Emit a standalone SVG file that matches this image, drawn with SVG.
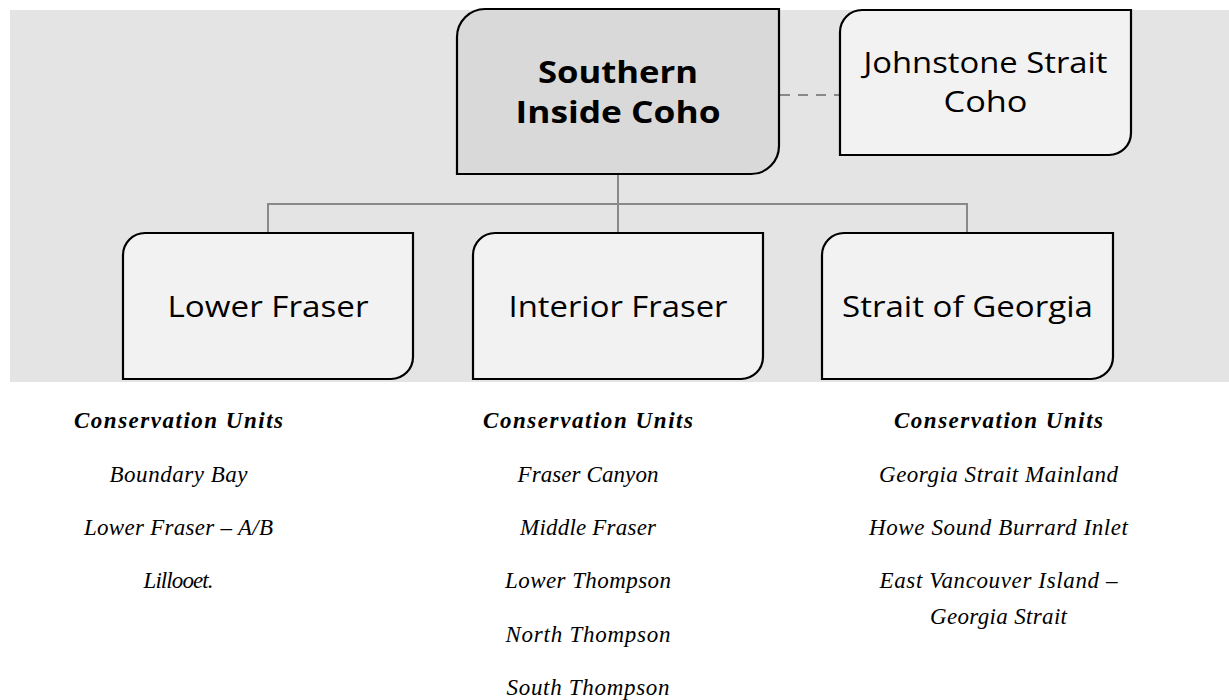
<svg xmlns="http://www.w3.org/2000/svg" width="1229" height="700" viewBox="0 0 1229 700">
<style>
.node{stroke:#000;stroke-width:2.2;}
.main{fill:#d9d9d9;}
.sub{fill:#f2f2f2;}
.conn{fill:none;stroke:#898989;stroke-width:2;}
.dash{fill:none;stroke:#898989;stroke-width:2;stroke-dasharray:10 8;}
.tb{font-family:"Open Sans","Liberation Sans",sans-serif;font-weight:bold;font-size:31px;fill:#000;text-anchor:middle;}
.tn{font-family:"Open Sans","Liberation Sans",sans-serif;font-size:30px;fill:#000;text-anchor:middle;}
.cu{font-family:"Liberation Serif",serif;font-style:italic;font-size:23px;fill:#000;text-anchor:middle;}
.cuh{font-weight:bold;}
</style>
<rect x="10" y="10" width="1219" height="372" fill="#e4e4e4"/>
<g id="connectors">
<path class="conn" d="M618,174 V204 M268,233 V204 H967 V233 M618,204 V233"/>
<path class="dash" d="M780,95 H840"/>
</g>
<g id="southern-inside-coho">
<path class="node main" d="M485,9 H779 V146 A28 28 0 0 1 751,174 H457 V37 A28 28 0 0 1 485,9 Z"/>
<text class="tb" x="618" y="83" textLength="160" lengthAdjust="spacingAndGlyphs">Southern</text>
<text class="tb" x="618" y="123" textLength="205" lengthAdjust="spacingAndGlyphs">Inside Coho</text>
</g>
<g id="johnstone-strait-coho">
<path class="node sub" d="M862,10 H1131 V133 A22 22 0 0 1 1109,155 H840 V32 A22 22 0 0 1 862,10 Z"/>
<text class="tn" x="985.5" y="73" textLength="244" lengthAdjust="spacingAndGlyphs">Johnstone Strait</text>
<text class="tn" x="985.5" y="112" textLength="84" lengthAdjust="spacingAndGlyphs">Coho</text>
</g>
<g id="lower-fraser">
<path class="node sub" d="M145,233 H413 V357 A22 22 0 0 1 391,379 H123 V255 A22 22 0 0 1 145,233 Z"/>
<text class="tn" x="268" y="317" textLength="201" lengthAdjust="spacingAndGlyphs">Lower Fraser</text>
</g>
<g id="interior-fraser">
<path class="node sub" d="M495,233 H763 V357 A22 22 0 0 1 741,379 H473 V255 A22 22 0 0 1 495,233 Z"/>
<text class="tn" x="618" y="317" textLength="219" lengthAdjust="spacingAndGlyphs">Interior Fraser</text>
</g>
<g id="strait-of-georgia">
<path class="node sub" d="M844,233 H1113 V357 A22 22 0 0 1 1091,379 H822 V255 A22 22 0 0 1 844,233 Z"/>
<text class="tn" x="967.5" y="317" textLength="251" lengthAdjust="spacingAndGlyphs">Strait of Georgia</text>
</g>
<g id="cu-lower-fraser">
<text class="cu cuh" x="178.5" y="428" textLength="209">Conservation Units</text>
<text class="cu" x="178.5" y="482" textLength="138">Boundary Bay</text>
<text class="cu" x="178.5" y="535" textLength="189">Lower Fraser – A/B</text>
<text class="cu" x="178.5" y="588" textLength="70">Lillooet.</text>
</g>
<g id="cu-interior-fraser">
<text class="cu cuh" x="588" y="428" textLength="210">Conservation Units</text>
<text class="cu" x="588" y="482" textLength="141">Fraser Canyon</text>
<text class="cu" x="588" y="535" textLength="136">Middle Fraser</text>
<text class="cu" x="588" y="588" textLength="166">Lower Thompson</text>
<text class="cu" x="588" y="642" textLength="165">North Thompson</text>
<text class="cu" x="588" y="695" textLength="163">South Thompson</text>
</g>
<g id="cu-strait-of-georgia">
<text class="cu cuh" x="998.5" y="428" textLength="209">Conservation Units</text>
<text class="cu" x="998.5" y="482" textLength="239">Georgia Strait Mainland</text>
<text class="cu" x="998.5" y="535" textLength="259">Howe Sound Burrard Inlet</text>
<text class="cu" x="998.5" y="588" textLength="238">East Vancouver Island –</text>
<text class="cu" x="998.5" y="624" textLength="137">Georgia Strait</text>
</g>
</svg>
